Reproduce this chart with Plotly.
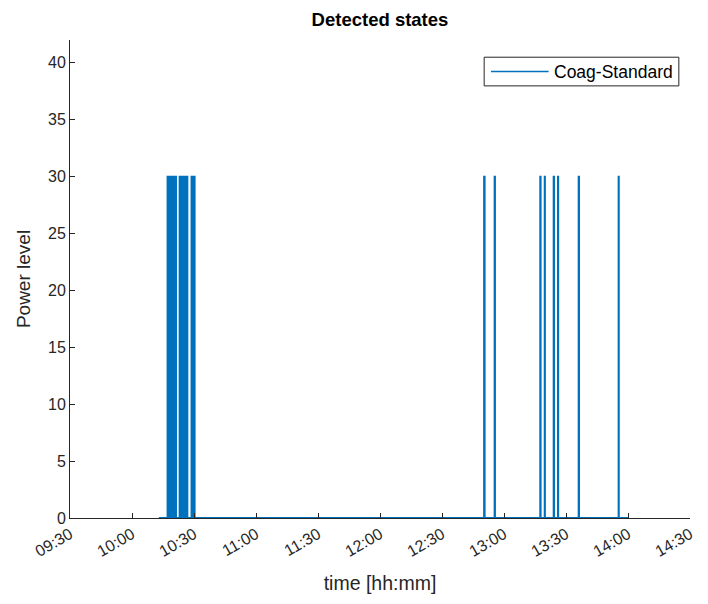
import plotly.graph_objects as go

# Recording window (state is 0 outside the pulses)
day = "2021-01-01"
record_start = "10:13:00"
record_end = "14:00:20"

# Detected Coag-Standard activations: switch-on / switch-off times and level
pulse_on = [
    "10:17:10", "10:17:40", "10:18:10", "10:18:40", "10:19:10", "10:19:40",
    "10:20:10", "10:20:40", "10:21:05",
    "10:23:00", "10:23:30", "10:24:00", "10:24:30", "10:25:00", "10:25:30",
    "10:26:00", "10:26:30",
    "10:28:45", "10:29:15", "10:29:45",
    "12:50:20", "12:55:25", "13:17:30", "13:19:40", "13:24:00", "13:26:05",
    "13:36:05", "13:55:25",
]
pulse_off = [
    "10:17:25", "10:17:55", "10:18:25", "10:18:55", "10:19:25", "10:19:55",
    "10:20:25", "10:20:55", "10:21:20",
    "10:23:15", "10:23:45", "10:24:15", "10:24:45", "10:25:15", "10:25:45",
    "10:26:15", "10:26:50",
    "10:29:00", "10:29:30", "10:30:20",
    "12:50:40", "12:55:40", "13:17:45", "13:19:50", "13:24:15", "13:26:15",
    "13:36:20", "13:55:35",
]
pulse_level = [30] * len(pulse_on)

tick_times = ["09:30", "10:00", "10:30", "11:00", "11:30", "12:00",
              "12:30", "13:00", "13:30", "14:00", "14:30"]
y_ticks = [0, 5, 10, 15, 20, 25, 30, 35, 40]
series_name = "Coag-Standard"


def ts(hms):
    return f"{day} {hms}"


# Build the step trace from the pulse list
xs = [ts(record_start)]
ys = [0]
for on, off, lvl in zip(pulse_on, pulse_off, pulse_level):
    xs += [ts(on), ts(on), ts(off), ts(off)]
    ys += [0, lvl, lvl, 0]
xs.append(ts(record_end))
ys.append(0)

ink = "#262626"
blue = "#0072BD"
font = "Liberation Sans, Arial, sans-serif"

fig = go.Figure()
fig.add_trace(go.Scatter(
    x=xs, y=ys, mode="lines", name=series_name,
    line=dict(color=blue, width=1.8), showlegend=False,
))

# Legend box in the upper-right corner of the axes
fig.add_shape(type="rect", xref="paper", yref="paper",
              x0=0.668, x1=0.982, y0=0.904, y1=0.964,
              line=dict(color=ink, width=1), fillcolor="white")
fig.add_shape(type="line", xref="paper", yref="paper",
              x0=0.679, x1=0.772, y0=0.934, y1=0.934,
              line=dict(color=blue, width=1.5))
fig.add_annotation(text=series_name, xref="paper", yref="paper",
                   x=0.777, y=0.934, xanchor="left", yanchor="middle",
                   showarrow=False, font=dict(size=17.5, color="#000000"))

fig.update_layout(
    width=708, height=604,
    margin=dict(l=70, r=13, t=40, b=86),
    paper_bgcolor="white", plot_bgcolor="white",
    font=dict(family=font, color=ink, size=16),
    title=dict(text="<b>Detected states</b>", x=0.5, xref="paper",
               y=1, yref="container", yanchor="top", pad=dict(t=13),
               font=dict(size=18.5, color="#000000")),
    showlegend=False,
)

fig.update_xaxes(
    type="date",
    range=[ts("09:30:00"), ts("14:30:00")],
    tickvals=[ts(t + ":00") for t in tick_times],
    ticktext=tick_times,
    tickangle=-30,
    ticks="inside", ticklen=5, tickcolor=ink,
    showline=True, linecolor=ink, linewidth=1,
    showgrid=False, zeroline=False,
    tickfont=dict(size=16, color=ink),
    title=dict(text="time [hh:mm]", font=dict(size=19.5, color=ink), standoff=17),
)
fig.update_yaxes(
    range=[0, 42],
    tickvals=y_ticks,
    ticks="inside", ticklen=5, tickcolor=ink,
    showline=True, linecolor=ink, linewidth=1,
    showgrid=False, zeroline=False,
    tickfont=dict(size=16, color=ink),
    title=dict(text="Power level", font=dict(size=19, color=ink), standoff=12),
)

fig.write_html("out.html")
